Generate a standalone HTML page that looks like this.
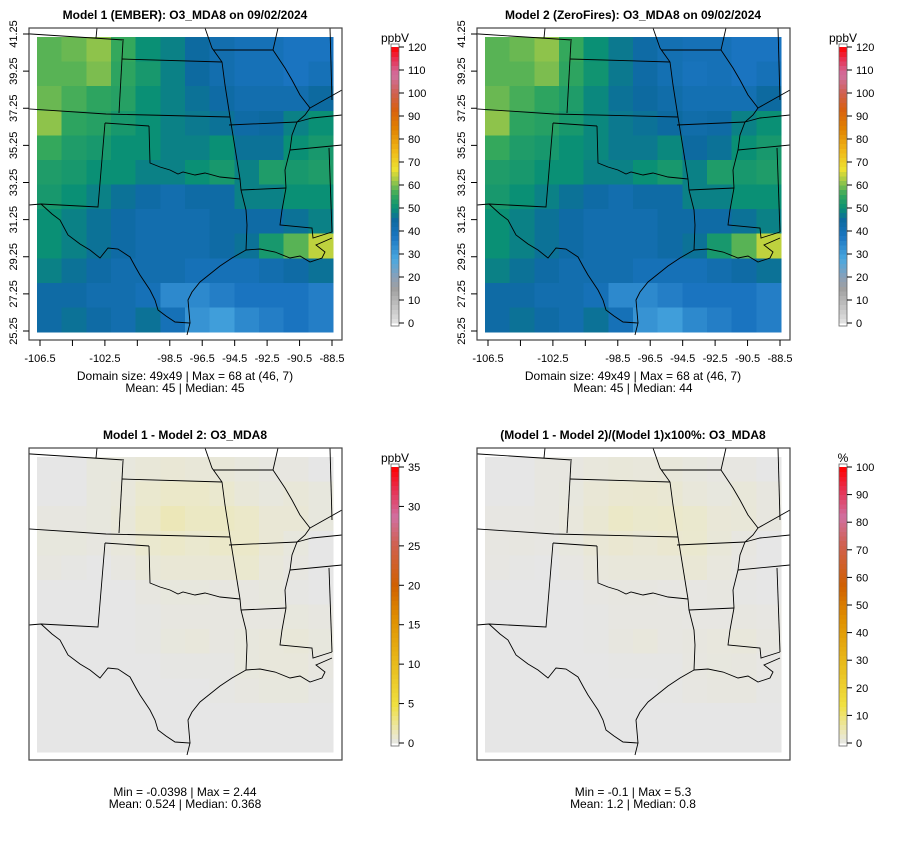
<!DOCTYPE html>
<html><head><meta charset="utf-8"><style>
body{margin:0;background:#fff;width:900px;height:840px;overflow:hidden}
svg{font-family:"Liberation Sans",sans-serif}
</style></head><body>
<svg id="chart" width="900" height="840"></svg>
<script>
// ---- data (12x12 coarse grids, rows north->south, cols west->east) ----
const model1 = [
[58,59,61,56,50,48,45,42,40,40,38,38],
[58,58,60,55,52,48,45,42,40,40,38,40],
[59,57,55,54,50,48,46,44,42,42,42,45],
[61,55,54,52,50,48,47,46,44,45,48,50],
[56,53,52,50,50,48,48,50,46,46,50,52],
[53,52,50,50,48,48,50,52,48,53,52,53],
[52,50,48,46,44,42,44,44,48,48,50,50],
[50,48,46,44,42,42,42,44,44,44,46,48],
[50,48,46,44,42,42,42,44,46,52,58,64],
[48,46,44,42,42,42,40,40,40,42,44,46],
[44,44,42,42,40,34,34,36,38,38,38,36],
[44,46,44,42,46,40,32,30,34,36,38,36]];
const model2 = [
[58,59,61,56,50,47,44,41,40,40,38,38],
[58,58,60,55,51,47,44,41,39,40,38,40],
[59,57,55,53,49,46,45,43,41,41,41,45],
[61,55,54,52,49,47,46,45,43,44,48,50],
[56,53,52,50,49,47,47,49,45,46,50,52],
[53,52,50,50,48,48,50,52,48,53,52,53],
[52,50,48,46,44,42,44,44,48,48,50,50],
[50,48,46,44,42,42,42,44,44,44,46,48],
[50,48,46,44,42,42,42,44,46,52,58,64],
[48,46,44,42,42,42,40,40,40,42,44,46],
[44,44,42,42,40,34,34,36,38,38,38,36],
[44,46,44,42,46,40,32,30,34,36,38,36]];
const diff = [
[0,0,0.3,0.3,0.5,0.6,0.5,0.5,0.3,0.2,0.2,0],
[0,0,0.3,0.4,0.8,1.0,1.0,0.8,0.5,0.3,0.5,0.3],
[0.2,0.2,0.3,0.5,1.0,1.5,1.2,1.2,1.0,0.6,0.6,0.3],
[0.3,0.3,0.2,0.4,0.8,1.0,0.8,1.0,1.0,0.6,0.3,0],
[0.2,0.1,0,0.2,0.5,0.6,0.6,0.6,0.8,0.4,0.2,0],
[0,0,0,0,0.2,0.3,0.3,0.2,0.2,0.3,0.1,0],
[0,0,0,0,0.1,0.2,0.2,0.2,0.2,0.2,0.3,0.2],
[0,0,0,0,0.1,0.3,0.4,0.2,0.3,0.4,0.5,0.3],
[0,0,0,0,0,0.1,0.1,0.1,0.3,0.4,0.4,0.2],
[0,0,0,0,0,0,0,0.1,0.2,0.3,0.3,0.1],
[0,0,0,0,0,0,0,0,0,0,0,0],
[0,0,0,0,0,0,0,0,0,0,0,0]];
const pct = [
[0,0,0.6,0.6,1.0,1.3,1.1,1.2,0.8,0.5,0.5,0],
[0,0,0.6,0.8,1.6,2.1,2.2,1.9,1.2,0.8,1.3,0.7],
[0.4,0.4,0.6,1.0,2.0,3.1,2.6,2.7,2.4,1.5,1.4,0.7],
[0.5,0.6,0.4,0.8,1.6,2.1,1.7,2.2,2.3,1.4,0.6,0],
[0.4,0.2,0,0.4,1.0,1.2,1.2,1.2,1.7,0.9,0.4,0],
[0,0,0,0,0.4,0.6,0.6,0.4,0.4,0.6,0.2,0],
[0,0,0,0,0.2,0.5,0.5,0.5,0.4,0.4,0.6,0.4],
[0,0,0,0,0.2,0.7,1.0,0.5,0.7,0.9,1.1,0.6],
[0,0,0,0,0,0.2,0.2,0.2,0.6,0.8,0.7,0.3],
[0,0,0,0,0,0,0,0.2,0.5,0.7,0.7,0.2],
[0,0,0,0,0,0,0,0,0,0,0,0],
[0,0,0,0,0,0,0,0,0,0,0,0]];
const yTickLabels = ["41.25","39.25","37.25","35.25","33.25","31.25","29.25","27.25","25.25"];
const xTickValues = [-106.5,-104.5,-102.5,-100.5,-98.5,-96.5,-94.5,-92.5,-90.5,-88.5];
const xTickShown = ["-106.5","","-102.5","","-98.5","-96.5","-94.5","-92.5","-90.5","-88.5"];
const ticksO3 = [0,10,20,30,40,50,60,70,80,90,100,110,120];
const ticksDiff = [0,5,10,15,20,25,30,35];
const ticksPct = [0,10,20,30,40,50,60,70,80,90,100];

// ---- colour scales ----
const stopsO3 = [[0,"#e4e4e4"],[15,"#a0a0a0"],[20,"#8aa0b8"],[28,"#4aa8e0"],[38,"#1a74c0"],[45,"#0d6aa0"],[50,"#0a9075"],[56,"#34a85c"],[62,"#a0c848"],[67,"#ece030"],[75,"#f0b818"],[85,"#e08000"],[93,"#d86010"],[100,"#d06050"],[108,"#d070a0"],[115,"#e83050"],[120,"#ff0000"]];
const stopsRel = [[0,"#e6e6e6"],[0.03,"#ebe8c8"],[0.14,"#f0e040"],[0.3,"#e8b818"],[0.45,"#e09000"],[0.57,"#d06000"],[0.72,"#d06050"],[0.82,"#d070a0"],[0.92,"#e83050"],[1,"#ff0000"]];
function hex(c){return [1,3,5].map(i=>parseInt(c.substr(i,2),16));}
function interp(stops,v){
  if(v<=stops[0][0])return stops[0][1];
  for(let i=1;i<stops.length;i++){if(v<=stops[i][0]){const a=hex(stops[i-1][1]),b=hex(stops[i][1]);const t=(v-stops[i-1][0])/(stops[i][0]-stops[i-1][0]);return "rgb("+a.map((x,k)=>Math.round(x+(b[k]-x)*t)).join(",")+")";}}
  return stops[stops.length-1][1];
}

const NS="http://www.w3.org/2000/svg";
const svg=document.getElementById('chart');
function mk(tag,attrs,parent){const e=document.createElementNS(NS,tag);for(const k in attrs)e.setAttribute(k,attrs[k]);(parent||svg).appendChild(e);return e;}

// map outline paths in panel-local pixel coords (not data)
const borders=[
"M0,32 L124,40","M97,28 L96,38","M123,41 L119,113","M122,59 L222,62","M0,107 L106,114 L230,117",
"M105,123 L149,126","M105,123 L98,207 L41,204 L29,205",
"M230,117 L240,179","M149,126 L150,163 L160,167 L170,170 L178,174 L183,172 L195,175 L205,173 L220,177 L240,179",
"M41,204 L52,214 L60,220 L68,235 L80,244 L90,250 L100,258 L108,248 L118,249 L130,257 L136,268 L140,275 L150,290 L155,300 L158,310 L166,316 L175,322 L190,323 L187,335",
"M190,323 L188,300 L192,292 L200,282 L210,274 L220,266 L232,258 L246,250",
"M240,179 L241,190 L246,210 L247,225 L246,250",
"M241,190 L286,188","M246,250 L260,249 L275,252 L290,258 L300,256 L310,262 L322,258 L325,252 L316,245 L332,238",
"M286,188 L282,210 L280,225 L312,228 L313,238 L332,232",
"M329,148 L332,232","M229,125 L297,122","M205,28 L212,48 L222,62 L225,85 L230,117",
"M213,50 L273,50","M273,50 L278,28","M273,50 L285,68 L292,80 L300,95 L310,108 L305,115 L297,122 L292,135 L290,150 L285,170 L286,188",
"M330,28 L332,100","M297,122 L312,118 L342,115","M290,150 L342,145","M310,108 L342,90"];

function drawPanel(ox,oy,grid,stops,vmax,rel,title,footer1,footer2,axes,cbTicks,unit,pname){
  const g=mk('g',{transform:`translate(${ox},${oy})`});
  
  
  const t=mk('text',{x:185,y:19,'text-anchor':'middle','font-size':12,'font-weight':'bold'},g);
  t.textContent=title;
  
  
  const x0=37,y0=37,W=296,H=295,rows=grid.length,cols=grid[0].length;
  const xs=c=>x0+c*W/cols, ys=r=>y0+r*H/rows;
  const cg=mk('g',{'shape-rendering':'crispEdges'},g);
  
  
  grid.forEach((row,r)=>row.forEach((v,c)=>{
    const cell=mk('rect',{x:xs(c),y:ys(r),width:W/cols+0.5,height:H/rows+0.5,fill:interp(stops,rel?v/vmax:v)},cg);
    
    
  }));
  const clipId='clip'+pname;
  const cp=mk('clipPath',{id:clipId},g);mk('rect',{x:29,y:28,width:313,height:312},cp);
  const bg=mk('g',{'clip-path':`url(#${clipId})`,fill:'none',stroke:'#000','stroke-width':0.9},g);
  
  
  borders.forEach(d=>mk('path',{d},bg));
  const box=mk('rect',{x:29,y:28,width:313,height:312,fill:'none',stroke:'#444','stroke-width':1.2},g);
  
  
  if(axes){
    const ly=i=>34+i*(331-34)/(yTickLabels.length-1);
    yTickLabels.forEach((l,i)=>{
      mk('line',{x1:29,x2:23,y1:ly(i),y2:ly(i),stroke:'#000'},g);
      const tx=mk('text',{x:17,y:ly(i),'font-size':11,'text-anchor':'middle',transform:`rotate(-90 17 ${ly(i)})`},g);
      tx.textContent=l;
      
      
    });
    const lx=v=>40+(v+106.5)*(332-40)/18;
    xTickValues.forEach((v,i)=>{
      mk('line',{x1:lx(v),x2:lx(v),y1:340,y2:346,stroke:'#000'},g);
      if(xTickShown[i]){const tx=mk('text',{x:lx(v),y:362,'font-size':11,'text-anchor':'middle'},g);
      tx.textContent=xTickShown[i];
      
      }
    });
  }
  const fy=axes?380:376;
  [footer1,footer2].forEach((s,i)=>{const f=mk('text',{x:185,y:fy+i*12,'font-size':12,'text-anchor':'middle'},g);f.textContent=s;
    
    });
  // colorbar
  const cbx=391,cw=8;
  const top=47,bot=323;
  const cmax=cbTicks[cbTicks.length-1];
  const cy=v=>bot-(v/cmax)*(bot-top);
  const cb=mk('g',{'shape-rendering':'crispEdges'},g);
  
  
  const n=60;
  for(let i=0;i<n;i++){const v=cmax*(i+0.5)/n;mk('rect',{x:cbx,y:cy(cmax*(i+1)/n),width:cw,height:(bot-top)/n+0.6,fill:interp(stops,rel?v/cmax:v)},cb);}
  mk('rect',{x:cbx,y:top-3,width:cw,height:bot-top+6,fill:'none',stroke:'#666','stroke-width':0.8},g);
  cbTicks.forEach(v=>{mk('line',{x1:cbx+cw,x2:cbx+cw+5,y1:cy(v),y2:cy(v),stroke:'#000'},g);
    const tx=mk('text',{x:cbx+cw+9,y:cy(v)+4,'font-size':11},g);tx.textContent=v;
    
    });
  const u=mk('text',{x:cbx+4,y:top-5,'font-size':12,'text-anchor':'middle'},g);u.textContent=unit;
  
  
}
drawPanel(0,0,model1,stopsO3,120,false,"Model 1 (EMBER): O3_MDA8 on 09/02/2024","Domain size: 49x49 | Max = 68 at (46, 7)","Mean: 45 |  Median: 45",true,ticksO3,"ppbV","panel-model1");
drawPanel(448,0,model2,stopsO3,120,false,"Model 2 (ZeroFires): O3_MDA8 on 09/02/2024","Domain size: 49x49 | Max = 68 at (46, 7)","Mean: 45 |  Median: 44",true,ticksO3,"ppbV","panel-model2");
drawPanel(0,420,diff,stopsRel,35,true,"Model 1 - Model 2: O3_MDA8","Min = -0.0398 | Max = 2.44","Mean: 0.524 |  Median: 0.368",false,ticksDiff,"ppbV","panel-diff");
drawPanel(448,420,pct,stopsRel,100,true,"(Model 1 - Model 2)/(Model 1)x100%: O3_MDA8","Min = -0.1 | Max = 5.3","Mean: 1.2 |  Median: 0.8",false,ticksPct,"%","panel-pct");
</script>
</body></html>
